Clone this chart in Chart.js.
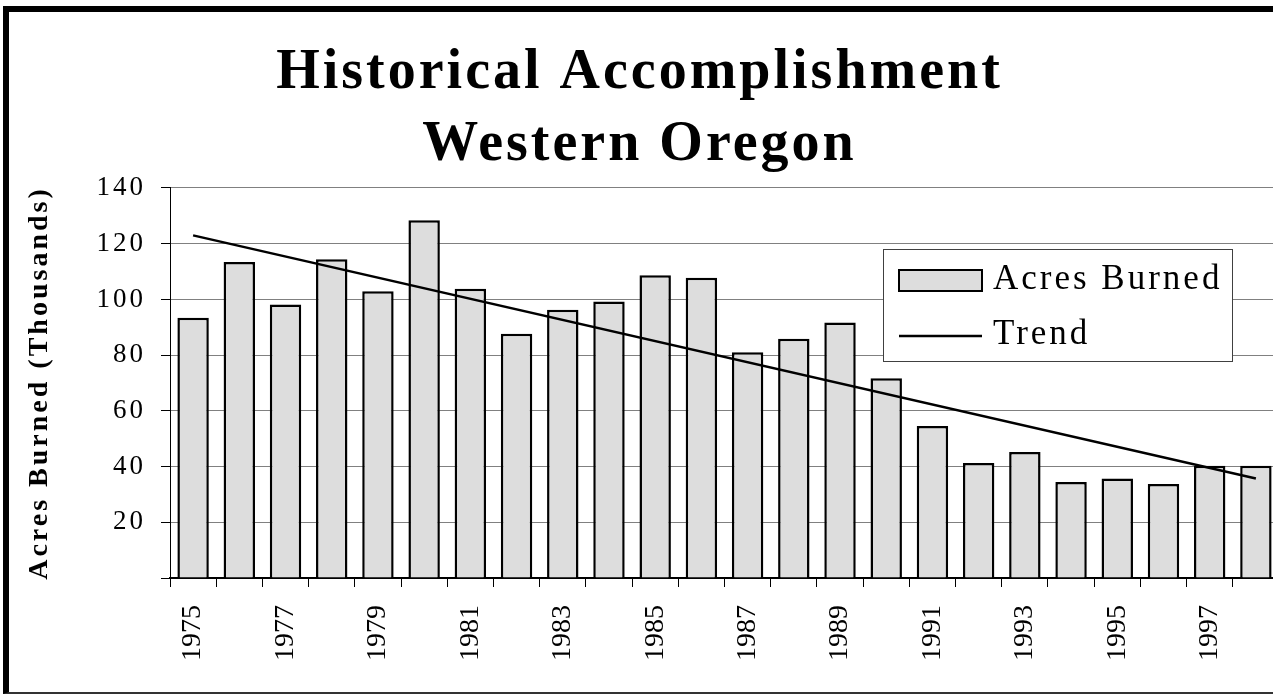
<!DOCTYPE html>
<html>
<head>
    <title>Historical Accomplishment Western Oregon</title>
    <script src="https://cdn.jsdelivr.net/npm/chart.js@4.4.1/dist/chart.umd.min.js"></script>
    <style>
        body {
            margin: 0;
            overflow: hidden;
            background: white;
            width: 1273px;
            height: 694px;
        }
        .frame {
            position: absolute;
            left: 3px;
            top: 6px;
            width: 1300px;
            height: 680px;
            border-left: 6px solid #000;
            border-top: 6px solid #000;
            border-bottom: 2px solid #333;
        }
        #chart {
            position: absolute;
            left: 0;
            top: 0;
            z-index: 1;
        }
    </style>
</head>
<body>
    <div class="frame"></div>
    <canvas id="chart" width="1280" height="694"></canvas>

    <script>
        // Data (thousands of acres)
        const years = ['1975', '1976', '1977', '1978', '1979', '1980', '1981', '1982',
                       '1983', '1984', '1985', '1986', '1987', '1988', '1989', '1990',
                       '1991', '1992', '1993', '1994', '1995', '1996', '1997', '1998'];
        const acresBurned = [93.4, 113.4, 98.2, 114.4, 102.9, 128.4, 103.8, 87.7,
                             96.3, 99.3, 108.7, 107.8, 81.0, 85.9, 91.7, 71.7,
                             54.6, 41.3, 45.2, 34.5, 35.7, 33.7, 40.3, 40.3];
        // straight trend line: only its two end points
        const trend = [123, null, null, null, null, null, null, null,
                       null, null, null, null, null, null, null, null,
                       null, null, null, null, null, null, null, 35.7];

        const serif = '"Liberation Serif", "Times New Roman", serif';

        // spaced-out lettering like the original, and the boxed legend
        const spacingPlugin = {
            id: 'spacing',
            beforeDraw(chart) {
                chart.ctx.letterSpacing = '3px';
            },
            afterDatasetsDraw(chart) {
                // year labels (drawn on top layer) are not spaced
                chart.ctx.letterSpacing = '0px';
            },
            afterDraw(chart) {
                const ctx = chart.ctx;
                const ds = chart.data.datasets;
                ctx.save();
                ctx.fillStyle = '#fff';
                ctx.fillRect(883, 249, 349, 112);
                ctx.strokeStyle = '#404040';
                ctx.lineWidth = 1;
                ctx.strokeRect(883.5, 249.5, 349, 112);

                ctx.fillStyle = ds[0].backgroundColor;
                ctx.fillRect(899, 270, 83, 21);
                ctx.strokeStyle = '#000';
                ctx.lineWidth = 2;
                ctx.strokeRect(899, 270, 83, 21);

                ctx.beginPath();
                ctx.lineWidth = 2.5;
                ctx.moveTo(899, 336);
                ctx.lineTo(982, 336);
                ctx.stroke();

                ctx.fillStyle = '#000';
                ctx.font = '35px ' + serif;
                ctx.letterSpacing = '3px';
                ctx.textBaseline = 'alphabetic';
                ctx.fillText(ds[0].label, 993, 289);
                ctx.fillText(ds[1].label, 993, 344);
                ctx.restore();
            }
        };

        new Chart(document.getElementById('chart'), {
            type: 'bar',
            data: {
                labels: years,
                datasets: [
                    {
                        label: 'Acres Burned',
                        data: acresBurned,
                        backgroundColor: '#dddddd',
                        borderColor: '#000',
                        borderWidth: 2.5,
                        barPercentage: 0.68,
                        categoryPercentage: 1,
                        order: 1
                    },
                    {
                        type: 'line',
                        label: 'Trend',
                        data: trend,
                        borderColor: '#000',
                        borderWidth: 2.5,
                        pointRadius: 0,
                        spanGaps: true,
                        fill: false,
                        order: 0
                    }
                ]
            },
            options: {
                responsive: false,
                animation: false,
                devicePixelRatio: 1,
                layout: { padding: { left: 0, right: 1, top: 0, bottom: 0 } },
                plugins: {
                    legend: { display: false },
                    tooltip: { enabled: false },
                    title: {
                        display: true,
                        text: ['Historical Accomplishment', 'Western Oregon'],
                        color: '#000',
                        font: { family: serif, size: 56, weight: 'bold', lineHeight: 1.2857 },
                        padding: { top: 38, bottom: 6 }
                    }
                },
                scales: {
                    x: {
                        afterFit(scale) {
                            scale.height = 116;
                            scale.paddingLeft = 0;
                            scale.paddingRight = 0;
                        },
                        grid: {
                            offset: true,
                            drawOnChartArea: false,
                            tickLength: 9,
                            tickColor: '#000'
                        },
                        border: { color: '#000', width: 2 },
                        ticks: {
                            z: 1,
                            autoSkip: false,
                            maxRotation: 90,
                            minRotation: 90,
                            padding: 18,
                            color: '#000',
                            font: { family: serif, size: 28 },
                            callback: function(value, index) {
                                return index % 2 === 0 ? this.getLabelForValue(value) : '';
                            }
                        }
                    },
                    y: {
                        min: 0,
                        max: 140,
                        afterFit(scale) {
                            scale.width = 170;
                            scale.paddingTop = 0;
                            scale.paddingBottom = 0;
                        },
                        grid: {
                            color: '#808080',
                            tickColor: '#000',
                            tickLength: 9,
                            lineWidth: 1
                        },
                        border: { color: '#000', width: 1 },
                        ticks: {
                            stepSize: 20,
                            padding: 15,
                            color: '#000',
                            font: { family: serif, size: 27 },
                            callback: v => v === 0 ? '' : v
                        },
                        title: {
                            display: true,
                            text: 'Acres Burned (Thousands)',
                            color: '#000',
                            font: { family: serif, size: 28, weight: 'bold' },
                            padding: { top: 23, bottom: 0 }
                        }
                    }
                }
            },
            plugins: [spacingPlugin]
        });
    </script>
</body>
</html>
